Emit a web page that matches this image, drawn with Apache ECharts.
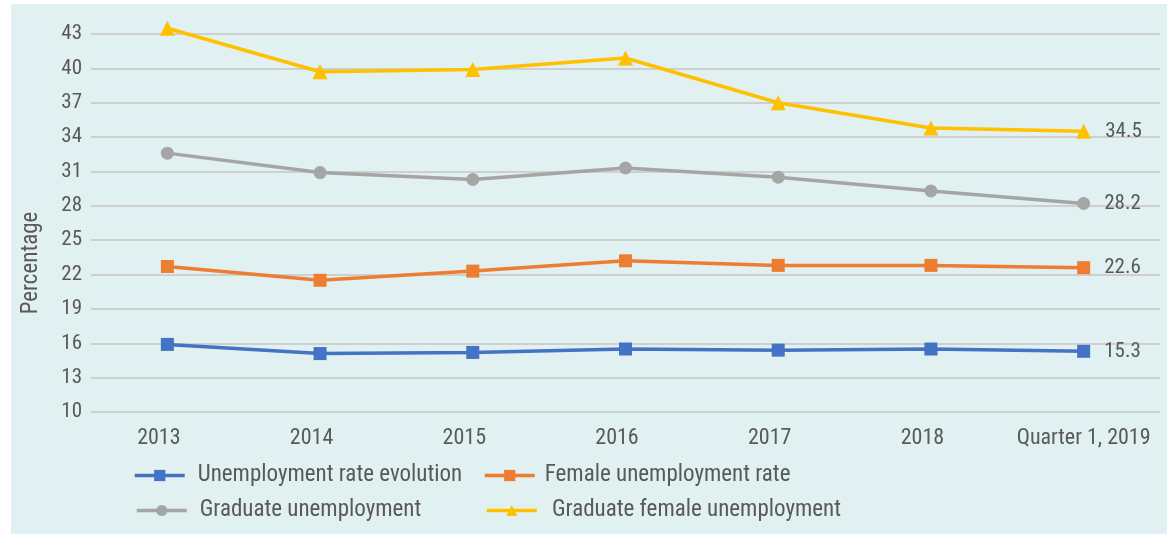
<!DOCTYPE html>
<html>
<head>
<meta charset="utf-8">
<script src="https://cdn.jsdelivr.net/npm/echarts@6/dist/echarts.min.js"></script>
<style>
  html, body { margin: 0; padding: 0; background: #ffffff; }
  #panel { position: absolute; left: 11px; top: 4px; width: 1156px; height: 530px; background: #e1f0f0; }
  #chart { position: absolute; left: 0; top: 0; width: 1167px; height: 534px; }
</style>
</head>
<body>
<div id="panel"></div>
<div id="chart"></div>
<script>
// Unemployment indicators, percentage, 2013 – Q1 2019
const categories = ['2013', '2014', '2015', '2016', '2017', '2018', 'Quarter 1, 2019'];
const unemploymentRate = [15.9, 15.1, 15.2, 15.5, 15.4, 15.5, 15.3];
const femaleRate = [22.7, 21.5, 22.3, 23.2, 22.8, 22.8, 22.6];
const graduateRate = [32.6, 30.9, 30.3, 31.3, 30.5, 29.3, 28.2];
const graduateFemaleRate = [43.5, 39.7, 39.9, 40.9, 37.0, 34.8, 34.5];
const yTicks = [10, 13, 16, 19, 22, 25, 28, 31, 34, 37, 40, 43];

const seriesNames = [
  'Unemployment rate evolution',
  'Female unemployment rate',
  'Graduate unemployment',
  ' Graduate female unemployment'
];
const colors = ['#4472c4', '#ed7d31', '#a5a5a5', '#ffc000'];
const symbols = ['rect', 'rect', 'circle', 'triangle'];
const dataSets = [unemploymentRate, femaleRate, graduateRate, graduateFemaleRate];

const FONT = '"Roboto Condensed", Roboto, sans-serif';
const TEXT = '#595959';
const FS = 21;

const lastIndex = categories.length - 1;

const series = dataSets.map((values, i) => ({
  name: seriesNames[i],
  type: 'line',
  data: values,
  clip: false,
  symbol: symbols[i],
  symbolSize: symbols[i] === 'triangle' ? 15 : 13,
  showAllSymbol: true,
  color: colors[i],
  lineStyle: { width: 3.5, color: colors[i] },
  itemStyle: { color: colors[i] },
  z: 3 + i,
  label: {
    show: true,
    position: 'right',
    distance: 14,
    fontFamily: FONT,
    fontSize: FS,
    color: TEXT,
    formatter: p => (p.dataIndex === lastIndex ? p.value.toFixed(1) : '')
  },
  emphasis: { disabled: true }
}));

// legend blocks laid out in two rows of two
const legendPos = [
  { left: 133, top: 464, gap: 8 },
  { left: 483, top: 464, gap: 5 },
  { left: 135, top: 499, gap: 8 },
  { left: 485, top: 499, gap: 5 }
];

const legends = seriesNames.map((name, i) => ({
  data: [name],
  left: legendPos[i].left,
  top: legendPos[i].top,
  padding: 0,
  itemWidth: 50,
  itemHeight: 14,
  itemGap: 0,
  lineStyle: { width: 3.5 },
  textStyle: { fontFamily: FONT, fontSize: 23, color: TEXT, padding: [0, 0, 0, legendPos[i].gap] },
  selectedMode: false
}));

const chart = echarts.init(document.getElementById('chart'), null, { renderer: 'canvas' });
chart.setOption({
  backgroundColor: 'transparent',
  animation: false,
  legend: legends,
  grid: { left: 91, right: 7, top: 34, bottom: 122, containLabel: false },
  xAxis: {
    type: 'category',
    data: categories,
    boundaryGap: true,
    axisLine: { show: false },
    axisTick: { show: false },
    axisLabel: {
      interval: 0,
      fontFamily: FONT,
      fontSize: 22,
      color: TEXT,
      margin: 15,
      formatter: (v, i) => (i === lastIndex ? '{q|' + v + '}' : '{y|' + v + '}'),
      rich: {
        y: { fontFamily: FONT, fontSize: 22, color: TEXT, padding: [0, 17, 0, 0] },
        q: { fontFamily: FONT, fontSize: 22, color: TEXT }
      }
    }
  },
  yAxis: {
    type: 'value',
    min: yTicks[0],
    max: yTicks[yTicks.length - 1],
    interval: yTicks[1] - yTicks[0],
    name: 'Percentage',
    nameLocation: 'middle',
    nameGap: 48,
    nameRotate: 90,
    nameTextStyle: { fontFamily: FONT, fontSize: 23, color: TEXT, padding: [0, 80, 0, 0] },
    axisLine: { show: false },
    axisTick: { show: false },
    axisLabel: { fontFamily: FONT, fontSize: FS, color: TEXT, margin: 9 },
    splitLine: { lineStyle: { color: '#cfcfcf', width: 2 } }
  },
  series: series
});
</script>
</body>
</html>
